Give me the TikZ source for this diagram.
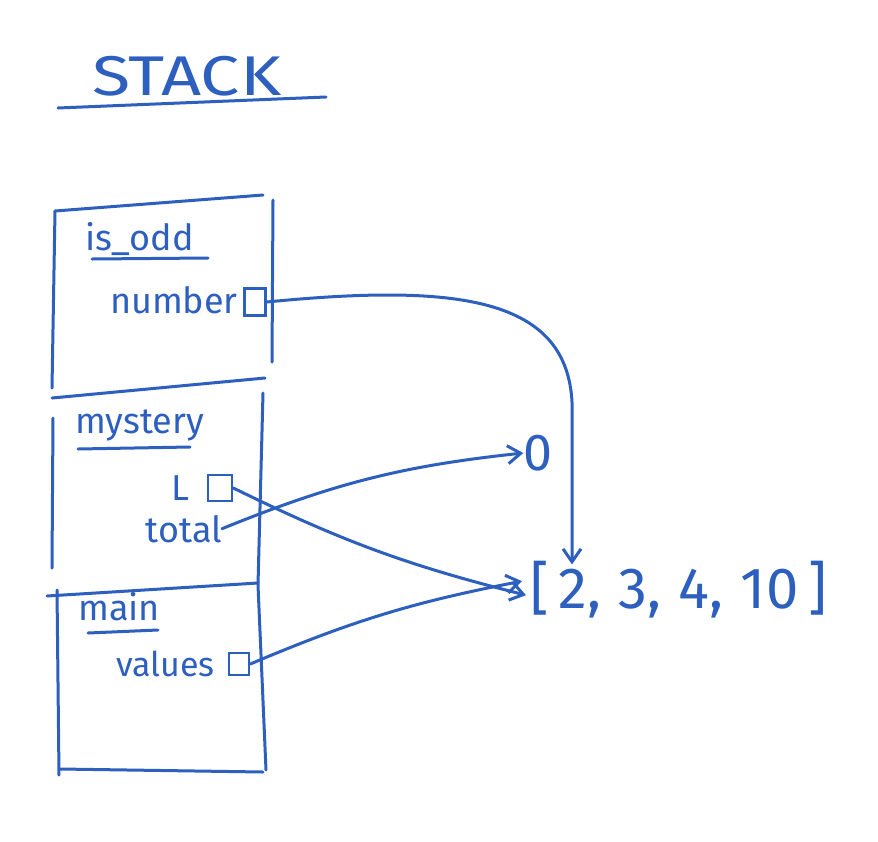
\documentclass[tikz,border=0pt]{standalone}
\usepackage{fontspec}
\setmainfont{Fira Sans}
\usetikzlibrary{arrows.meta}
\definecolor{pen}{RGB}{45,95,190}
\begin{document}
\begin{tikzpicture}[x=1pt,y=-1pt,
  ink/.style={draw=pen, line width=3pt, line cap=round, line join=round},
  lbl/.style={text=pen, font=\fontsize{36}{40}\selectfont, inner sep=0pt},
  slot/.style={draw=pen, line width=2.6pt, inner sep=0pt},
  ptr/.style={ink, -{Straight Barb[length=13pt,width=18pt,line width=3pt]}}]
\useasboundingbox (0,0) rectangle (878,841);
\fill[white] (0,0) rectangle (878,841);
% title
\node[lbl, font=\fontsize{56}{60}\selectfont, anchor=base west] (title) at (92,95) {\scalebox{1.25}[1]{STACK}};
\draw[ink] (58,108) -- (326,97);
% frames
\draw[ink] (55,211) -- (263,195);
\draw[ink] (55,211) -- (52,388);
\draw[ink] (273,200) -- (272,362);
\draw[ink] (52,398) -- (265,378);
\draw[ink] (53,418) -- (52,568);
\draw[ink] (263,393) -- (258,585) -- (266,770);
\draw[ink] (47,596) -- (258,583);
\draw[ink] (57,590) -- (59,775);
\draw[ink] (60,769) -- (263,772);
% is_odd
\node[lbl, anchor=base west] (isodd) at (85,250) {is\_odd};
\draw[ink] (92,259) -- (208,258);
\node[lbl, anchor=base east] (number) at (238,313) {number};
\node[slot, minimum width=21pt, minimum height=27pt] (numbox) at (255,302) {};
% mystery
\node[lbl, anchor=base west] (mystery) at (75,433) {mystery};
\draw[ink] (78,449) -- (190,447);
\node[lbl, anchor=base east] (L) at (190,500) {L};
\node[slot, minimum width=24pt, minimum height=26pt] (Lbox) at (220,488) {};
\node[lbl, anchor=base east] (total) at (222,542) {total};
% main
\node[lbl, anchor=base west] (main) at (78,620) {main};
\draw[ink] (88,633) -- (158,630);
\node[lbl, font=\fontsize{34}{40}\selectfont, anchor=base east] (values) at (215,676) {values};
\node[slot, minimum width=20pt, minimum height=22pt] (valbox) at (239,664) {};
% heap objects
\node[lbl, font=\fontsize{52}{56}\selectfont] (zero) at (538,453) {0};
\node[lbl, font=\fontsize{58}{64}\selectfont, anchor=base west] (list) at (530,608) {[\,2,\hspace{0.3em}3,\hspace{0.3em}4,\hspace{0.3em}10\,]};
% pointers
\draw[ptr] (numbox.east) .. controls (470,282) and (578,300) .. (572,420) -- ([xshift=42pt,yshift=-4pt]list.north west);
\draw[ptr] (Lbox.east) to[bend right=6] ([xshift=-4pt,yshift=-6pt]list.west);
\draw[ptr] (total.east) to[bend left=8] (zero.west);
\draw[ptr] (valbox.east) to[bend left=6] ([xshift=-8pt,yshift=8pt]list.west);
\end{tikzpicture}
\end{document}
